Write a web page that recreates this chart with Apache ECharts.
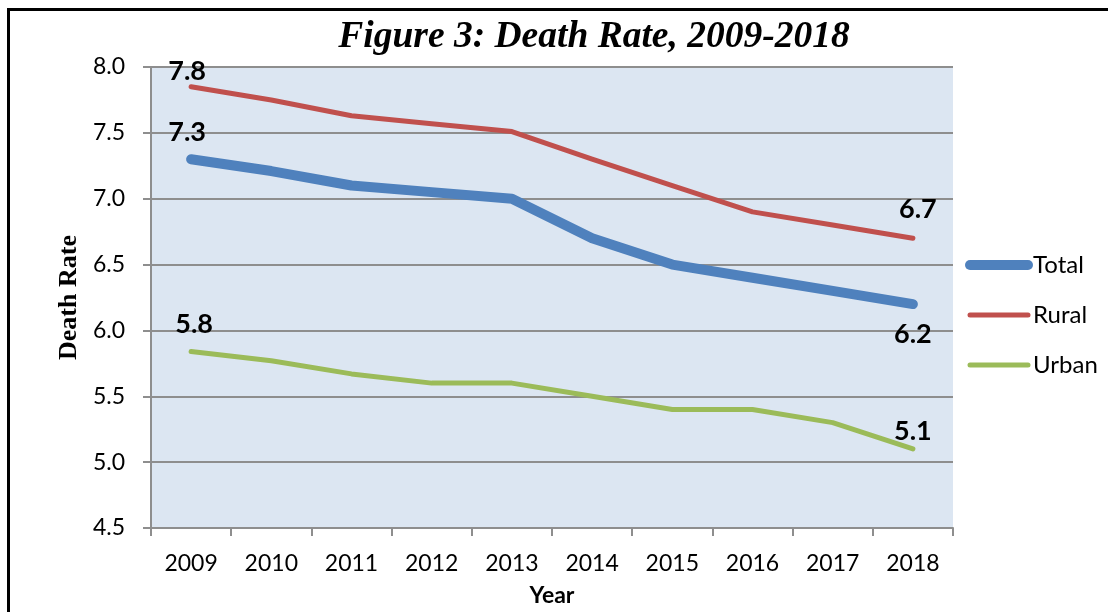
<!DOCTYPE html>
<html>
<head>
<meta charset="utf-8">
<script src="https://cdn.jsdelivr.net/npm/echarts@6/dist/echarts.min.js"></script>
<style>
  html, body { margin: 0; padding: 0; background: #fff; }
  #chart { width: 1108px; height: 612px; }
</style>
</head>
<body>
<div id="chart"></div>
<script>
var years = ['2009', '2010', '2011', '2012', '2013', '2014', '2015', '2016', '2017', '2018'];
var total = [7.3, 7.21, 7.1, 7.05, 7.0, 6.7, 6.5, 6.4, 6.3, 6.2];
var rural = [7.85, 7.75, 7.63, 7.57, 7.51, 7.3, 7.1, 6.9, 6.8, 6.7];
var urban = [5.84, 5.77, 5.67, 5.6, 5.6, 5.5, 5.4, 5.4, 5.3, 5.1];

var sans = 'Lato, "Open Sans", sans-serif';
var serif = '"Liberation Serif", "Times New Roman", serif';
var gridGrey = '#8e8e8e';

// label only first and last point, each with its own spacing
function withEndLabels(values, first, last) {
    return values.map(function (v, i) {
        var cfg = i === 0 ? first : (i === values.length - 1 ? last : null);
        if (!cfg) return v;
        return {
            value: v,
            label: {
                show: true,
                position: cfg.pos || 'top',
                distance: cfg.dist,
                offset: [cfg.dx || 0, 0],
                formatter: function (p) { return p.value.toFixed(1); },
                color: '#000',
                fontFamily: sans,
                fontWeight: 'bold',
                fontSize: 27
            }
        };
    });
}

function lineSeries(name, values, color, width, first, last) {
    return {
        name: name,
        type: 'line',
        data: withEndLabels(values, first, last),
        symbol: 'circle',
        symbolSize: 2,
        itemStyle: { color: color },
        lineStyle: { color: color, width: width, cap: 'round', join: 'round' },
        emphasis: { disabled: true }
    };
}

var myChart = echarts.init(document.getElementById('chart'));

var option = {
    animation: false,
    title: {
        text: 'Figure 3: Death Rate, 2009-2018',
        left: 589,
        textAlign: 'center',
        top: 13,
        textStyle: {
            fontFamily: serif,
            fontStyle: 'italic',
            fontWeight: 'bold',
            fontSize: 37.5,
            color: '#000'
        }
    },
    graphic: [{
        type: 'rect',
        shape: { x: 8.5, y: 9.5, width: 1300, height: 800 },
        style: { fill: 'none', stroke: '#000', lineWidth: 3 },
        silent: true
    }],
    legend: {
        orient: 'vertical',
        left: 965,
        top: 253,
        padding: 0,
        itemWidth: 58,
        itemHeight: 22,
        itemGap: 26,
        itemStyle: { opacity: 0 },
        textStyle: { fontFamily: sans, fontSize: 24, color: '#000' },
        data: [
            { name: 'Total', lineStyle: { width: 10, cap: 'round' } },
            { name: 'Rural', lineStyle: { width: 5, cap: 'round' } },
            { name: 'Urban', lineStyle: { width: 5, cap: 'round' } }
        ]
    },
    grid: {
        left: 151,
        right: 155,
        top: 67,
        bottom: 82,
        show: true,
        backgroundColor: '#dce6f2',
        borderWidth: 0
    },
    xAxis: {
        type: 'category',
        data: years,
        boundaryGap: true,
        name: 'Year',
        nameLocation: 'middle',
        nameGap: 56,
        nameTextStyle: { fontFamily: sans, fontWeight: 'bold', fontSize: 23, color: '#000' },
        axisLine: { lineStyle: { color: gridGrey, width: 2 } },
        axisTick: { show: true, length: 8, interval: 0, lineStyle: { color: gridGrey, width: 2 } },
        axisLabel: { margin: 24, fontFamily: sans, fontSize: 23, color: '#000', interval: 0 },
        splitLine: { show: false }
    },
    yAxis: {
        type: 'value',
        min: 4.5,
        max: 8,
        interval: 0.5,
        name: 'Death Rate',
        nameLocation: 'middle',
        nameGap: 67,
        nameTextStyle: { fontFamily: serif, fontWeight: 'bold', fontSize: 26, color: '#000' },
        axisLine: { show: true, lineStyle: { color: gridGrey, width: 2 } },
        axisTick: { show: true, length: 8, lineStyle: { color: gridGrey, width: 2 } },
        axisLabel: {
            margin: 26,
            fontFamily: sans,
            fontSize: 23,
            color: '#000',
            formatter: function (v) { return v.toFixed(1); }
        },
        splitLine: { show: true, lineStyle: { color: gridGrey, width: 2 } }
    },
    series: [
        lineSeries('Total', total, '#4f81bd', 10, { dist: 12, dx: -4 }, { pos: 'bottom', dist: 16 }),
        lineSeries('Rural', rural, '#c0504d', 5, { dist: 1, dx: -4 }, { dist: 14, dx: 5 }),
        lineSeries('Urban', urban, '#9bbb59', 5, { dist: 13, dx: 3 }, { dist: 3 })
    ]
};

myChart.setOption(option);

window.addEventListener('resize', function () {
    myChart.resize();
});
</script>
</body>
</html>
